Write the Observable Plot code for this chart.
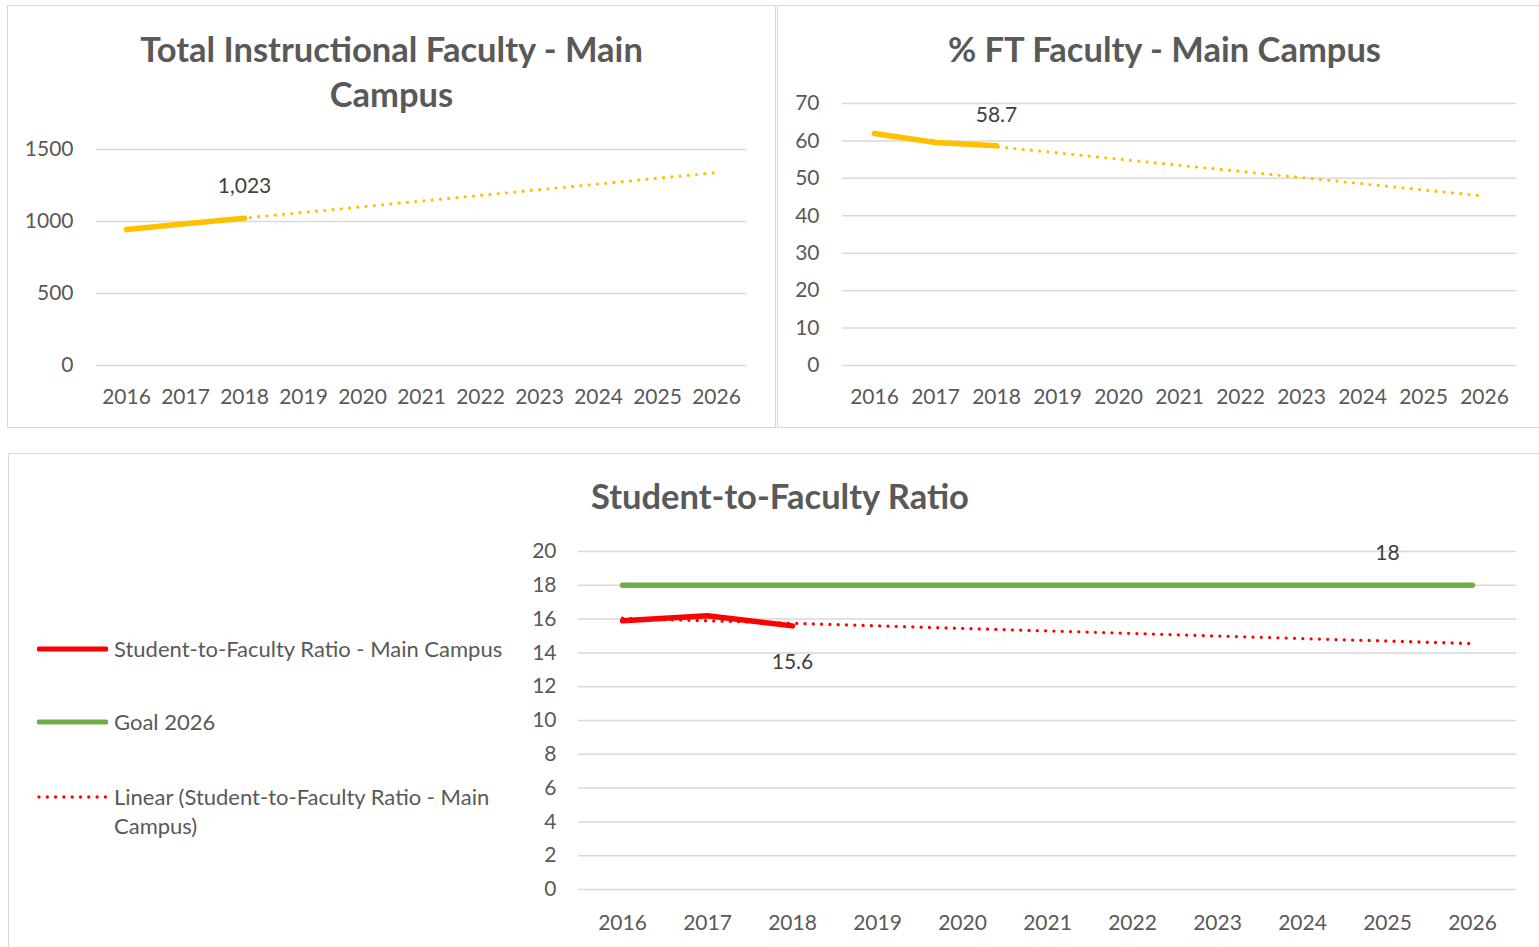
<!DOCTYPE html>
<html><head><meta charset="utf-8">
<script src="https://cdn.jsdelivr.net/npm/d3@7"></script>
<script src="https://cdn.jsdelivr.net/npm/@observablehq/plot@0.6"></script>
<style>
html,body{margin:0;padding:0;background:#fff;}
body{width:1539px;height:947px;overflow:hidden;position:relative;font-family:Lato,"Open Sans",sans-serif;}
.panel{position:absolute;border:1.5px solid #d9d9d9;box-sizing:border-box;background:#fff;}
.title{position:absolute;left:0;right:0;text-align:center;font-weight:700;font-size:34.5px;color:#595959;line-height:45px;white-space:nowrap;}
.plot{position:absolute;}
.plot svg{overflow:visible;max-width:none !important;}
.leg{position:absolute;left:37px;font-size:22px;color:#595959;line-height:29px;display:flex;align-items:flex-start;}
.leg svg{flex:none;margin-right:6px;}
</style></head><body>

<div class="panel" style="left:7px;top:5px;width:769px;height:423px;"><div class="title" style="top:20px;">Total Instructional Faculty - Main<br>Campus</div></div>
<div class="panel" style="left:777px;top:5px;width:775px;height:423px;"><div class="title" style="top:20px;">% FT Faculty - Main Campus</div></div>
<div class="panel" style="left:8px;top:453px;width:1544px;height:520px;"><div class="title" style="top:19px;">Student-to-Faculty Ratio</div></div>

<div id="c1" class="plot" style="left:7px;top:5px;width:768px;height:422px;"></div>
<div id="c2" class="plot" style="left:777px;top:5px;width:770px;height:422px;"></div>
<div id="c3" class="plot" style="left:8px;top:453px;width:1539px;height:494px;"></div>

<div class="leg" style="top:634px;"><svg width="71" height="29"><line x1="2" x2="69" y1="15" y2="15" stroke="#FF0000" stroke-width="5" stroke-linecap="round"/></svg><span>Student-to-Faculty Ratio - Main Campus</span></div>
<div class="leg" style="top:707px;"><svg width="71" height="29"><line x1="2" x2="69" y1="15" y2="15" stroke="#70AD47" stroke-width="5" stroke-linecap="round"/></svg><span>Goal 2026</span></div>
<div class="leg" style="top:782px;"><svg width="71" height="29"><line x1="2" x2="69" y1="15" y2="15" stroke="#FF0000" stroke-width="3.3" stroke-dasharray="0 8.3" stroke-linecap="round"/></svg><span>Linear (Student-to-Faculty Ratio - Main<br>Campus)</span></div>

<script>
// ---- data ----
const years = ["2016","2017","2018","2019","2020","2021","2022","2023","2024","2025","2026"];
const actualYears = ["2016","2017","2018"];
const facultyTotal = [944, 985, 1023];
const ftPercent = [62.0, 59.6, 58.7];
const studentFacultyRatio = [15.9, 16.2, 15.6];
const goal2026 = [18,18,18,18,18,18,18,18,18,18,18];
const facultyTicks = [0, 500, 1000, 1500];
const ftTicks = [0, 10, 20, 30, 40, 50, 60, 70];
const ratioTicks = [0, 2, 4, 6, 8, 10, 12, 14, 16, 18, 20];

// Excel-style linear trendline (least squares on the actual points, extended to 2026)
function linearTrend(xs, ys, outXs) {
  const nx = xs.map(Number), mx = d3.mean(nx), my = d3.mean(ys);
  const b = d3.sum(nx, (x, i) => (x - mx) * (ys[i] - my)) / d3.sum(nx, x => (x - mx) ** 2);
  return outXs.map(x => ({year: x, value: my + b * (Number(x) - mx)}));
}
const rows = (xs, ys) => xs.map((x, i) => ({year: x, value: ys[i]}));

const GRID = "#d9d9d9", TXT = "#595959", LBL = "#404040";

function chart({el, values, color, ticks, domain, width, height, mL, mR, mT, mB, padX, padY, labelIdx, labelText, labelDy, extra = []}) {
  const actual = rows(actualYears, values);
  const trend = linearTrend(actualYears, values, years);
  const p = Plot.plot({
    width, height, marginLeft: mL, marginRight: mR, marginTop: mT, marginBottom: mB,
    style: {fontFamily: "Lato, 'Open Sans', sans-serif", fontSize: "21px", color: TXT, background: "transparent", overflow: "visible"},
    x: {type: "point", domain: years, padding: 0.5, label: null},
    y: {domain, label: null},
    marks: [
      Plot.gridY(ticks, {stroke: GRID, strokeOpacity: 1, strokeWidth: 1.5}),
      Plot.axisY(ticks, {tickSize: 0, tickPadding: padY, tickFormat: d3.format("d"), fontSize: 21, fill: TXT, label: null}),
      Plot.axisX(years, {tickSize: 0, tickPadding: padX, fontSize: 21, fill: TXT, label: null}),
      ...extra,
      Plot.line(trend, {x: "year", y: "value", stroke: color, strokeWidth: 3.3, strokeDasharray: "0 8.3", strokeLinecap: "round"}),
      Plot.line(actual, {x: "year", y: "value", stroke: color, strokeWidth: 5.5, strokeLinecap: "round", strokeLinejoin: "round"}),
      Plot.text([actual[labelIdx]], {x: "year", y: "value", text: () => labelText, dy: labelDy, fill: LBL, fontSize: 21})
    ]
  });
  document.getElementById(el).appendChild(p);
}

chart({el: "c1", values: facultyTotal, color: "#FFC000", ticks: facultyTicks, domain: [0, 1500],
  width: 768, height: 422, mL: 89, mR: 29, mT: 144, mB: 62, padX: 24, padY: 23,
  labelIdx: 2, labelText: d3.format(",")(facultyTotal[2]), labelDy: -32});

chart({el: "c2", values: ftPercent, color: "#FFC000", ticks: ftTicks, domain: [0, 70],
  width: 770, height: 422, mL: 65, mR: 31, mT: 98, mB: 62, padX: 24, padY: 23,
  labelIdx: 2, labelText: ftPercent[2].toFixed(1), labelDy: -31});

chart({el: "c3", values: studentFacultyRatio, color: "#FF0000", ticks: ratioTicks, domain: [0, 20],
  width: 1539, height: 494, mL: 570, mR: 31, mT: 98, mB: 58, padX: 26, padY: 22,
  labelIdx: 2, labelText: studentFacultyRatio[2].toFixed(1), labelDy: 36,
  extra: [
    Plot.line(rows(years, goal2026), {x: "year", y: "value", stroke: "#70AD47", strokeWidth: 5.5, strokeLinecap: "round"}),
    Plot.text([{year: "2025", value: goal2026[9]}], {x: "year", y: "value", text: d => String(d.value), dy: -32, fill: LBL, fontSize: 21})
  ]});
</script>
</body></html>
